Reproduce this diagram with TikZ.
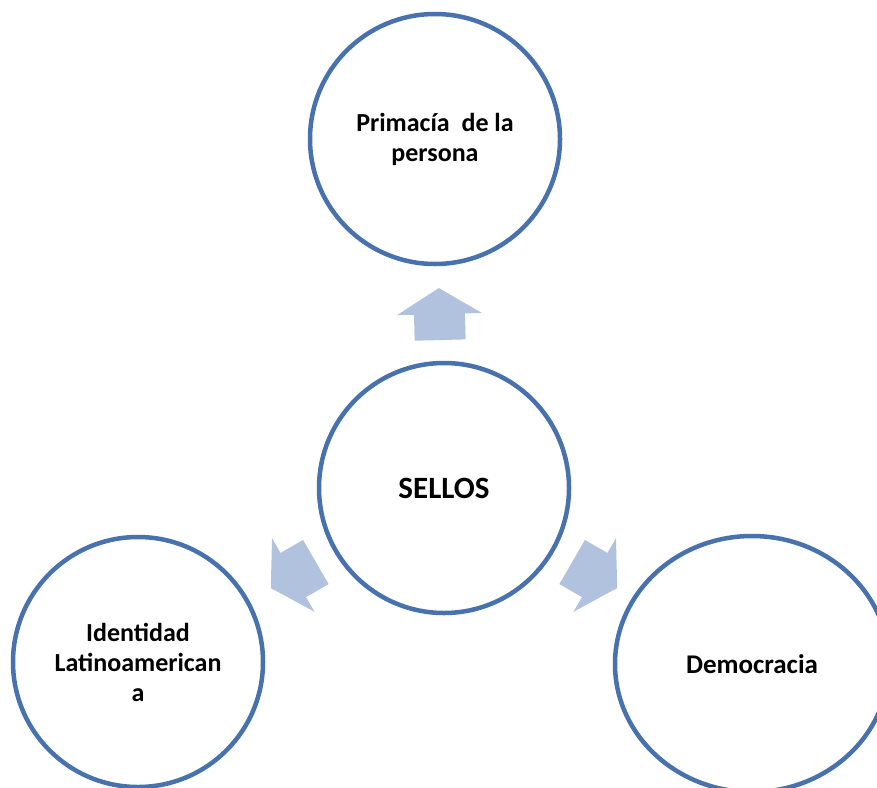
\documentclass[tikz,border=0pt]{standalone}
\usepackage{fontspec}
\setmainfont{Carlito}
\usetikzlibrary{calc,shapes.geometric}
\definecolor{ringblue}{HTML}{4872AE}
\definecolor{arrowfill}{HTML}{B1C2DE}
\tikzset{
  ring/.style={circle, draw=ringblue, line width=4.5pt, fill=white,
    minimum size=#1, inner sep=0pt, align=center,
    font=\fontsize{26}{30}\selectfont\bfseries},
  ring/.default=250pt,
  oval/.style={ellipse, draw=ringblue, line width=4.5pt, fill=white,
    minimum width=274pt, minimum height=256pt, inner sep=0pt, align=center,
    font=\fontsize{27}{30}\selectfont\bfseries},
  blockarrow/.style={fill=arrowfill, draw=none}
}
\begin{document}
\begin{tikzpicture}[x=1pt, y=-1pt]
\useasboundingbox (0,0) rectangle (877,787);
\node[ring] (t) at (435,139) {Primacía\ \ de la\\persona};
\node[ring, font=\fontsize{31}{34}\selectfont\bfseries] (c) at (444,488) {SELLOS};
\node[ring] (l) at (138,662) {Identidad\\Latinoamerican\\a};
\node[oval] (r) at (752,664) {Democracia};
\foreach \ang in {91.5,210,330}{
  \fill[blockarrow, shift={($(c)+(\ang:148pt)$)}, rotate=\ang]
    (0,25.5) -- (26,25.5) -- (26,42.5) -- (52,0) -- (26,-42.5)
    -- (26,-25.5) -- (0,-25.5) -- cycle;
}
\end{tikzpicture}
\end{document}
